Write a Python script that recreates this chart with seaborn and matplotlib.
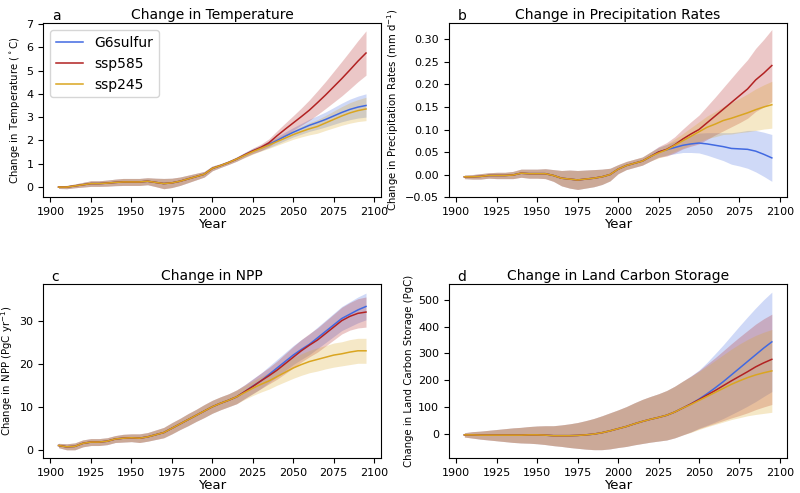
import numpy as np
import pandas as pd
import seaborn as sns
import matplotlib
matplotlib.use("Agg")
import matplotlib.pyplot as plt

# years
hist_years = np.arange(1905, 2016, 5)
fut_years = np.arange(2020, 2096, 5)

scenarios = ["G6sulfur", "ssp585", "ssp245"]
colors = {"G6sulfur": "royalblue", "ssp585": "firebrick", "ssp245": "goldenrod"}

# --- temperature (degC) ---
tas_hist = [0.0, 0.0, 0.05, 0.1, 0.15, 0.15, 0.17, 0.2, 0.22, 0.22, 0.22, 0.25, 0.2, 0.15, 0.18, 0.25,
            0.35, 0.45, 0.55, 0.8, 0.92, 1.05, 1.2]
tas_hist_sd = [0.06, 0.07, 0.08, 0.1, 0.12, 0.12, 0.13, 0.14, 0.15, 0.15, 0.15, 0.15, 0.18, 0.22, 0.2, 0.18,
               0.16, 0.14, 0.12, 0.1, 0.08, 0.08, 0.09]
tas_fut = {
    "G6sulfur": [1.38, 1.55, 1.68, 1.83, 2.0, 2.18, 2.35, 2.5, 2.65, 2.77, 2.9, 3.05, 3.2, 3.33, 3.43, 3.5],
    "ssp585": [1.38, 1.55, 1.7, 1.9, 2.2, 2.48, 2.75, 3.02, 3.3, 3.62, 3.95, 4.3, 4.65, 5.02, 5.4, 5.75],
    "ssp245": [1.36, 1.52, 1.66, 1.8, 1.95, 2.1, 2.25, 2.38, 2.5, 2.6, 2.75, 2.9, 3.05, 3.18, 3.28, 3.35],
}
tas_fut_sd = {
    "G6sulfur": [0.1, 0.11, 0.12, 0.14, 0.16, 0.18, 0.2, 0.23, 0.26, 0.29, 0.32, 0.36, 0.4, 0.44, 0.47, 0.5],
    "ssp585": [0.1, 0.12, 0.14, 0.17, 0.21, 0.26, 0.31, 0.37, 0.44, 0.51, 0.58, 0.66, 0.74, 0.81, 0.88, 0.95],
    "ssp245": [0.1, 0.11, 0.12, 0.14, 0.16, 0.18, 0.2, 0.23, 0.26, 0.29, 0.32, 0.36, 0.4, 0.44, 0.47, 0.5],
}

# --- precipitation (mm/d) ---
pr_hist = [-0.005, -0.005, -0.004, -0.002, -0.002, -0.002, -0.001, 0.003, 0.002, 0.002, 0.002, -0.002,
           -0.008, -0.01, -0.012, -0.01, -0.008, -0.005, 0.0, 0.012, 0.02, 0.025, 0.03]
pr_hist_sd = [0.004, 0.005, 0.006, 0.006, 0.007, 0.007, 0.008, 0.009, 0.01, 0.01, 0.011, 0.013,
              0.017, 0.02, 0.021, 0.02, 0.019, 0.017, 0.014, 0.01, 0.009, 0.009, 0.009]
pr_fut = {
    "G6sulfur": [0.04, 0.05, 0.055, 0.06, 0.065, 0.068, 0.07, 0.068, 0.065, 0.062, 0.058, 0.057, 0.056, 0.052, 0.045, 0.037],
    "ssp585": [0.04, 0.05, 0.056, 0.066, 0.079, 0.09, 0.1, 0.115, 0.13, 0.145, 0.16, 0.175, 0.19, 0.21, 0.225, 0.242],
    "ssp245": [0.04, 0.048, 0.055, 0.065, 0.075, 0.085, 0.095, 0.105, 0.112, 0.12, 0.125, 0.131, 0.137, 0.144, 0.15, 0.155],
}
pr_fut_sd = {
    "G6sulfur": [0.01, 0.011, 0.012, 0.014, 0.016, 0.019, 0.022, 0.025, 0.028, 0.031, 0.035, 0.038, 0.042, 0.046, 0.049, 0.052],
    "ssp585": [0.01, 0.012, 0.015, 0.018, 0.022, 0.027, 0.032, 0.037, 0.042, 0.048, 0.054, 0.06, 0.065, 0.07, 0.075, 0.08],
    "ssp245": [0.01, 0.011, 0.012, 0.014, 0.016, 0.019, 0.022, 0.025, 0.028, 0.031, 0.035, 0.038, 0.042, 0.046, 0.049, 0.052],
}

# --- NPP (PgC/yr) ---
npp_hist = [1.0, 0.7, 0.8, 1.5, 1.8, 1.8, 2.0, 2.5, 2.7, 2.8, 2.7, 3.0, 3.5, 4.0, 5.0, 6.0,
            7.0, 8.0, 9.0, 10.0, 10.8, 11.5, 12.3]
npp_hist_sd = [0.5, 0.7, 0.8, 0.8, 0.8, 0.8, 0.8, 0.8, 0.9, 0.9, 1.0, 1.0, 1.1, 1.2, 1.3, 1.3,
               1.4, 1.4, 1.5, 1.5, 1.5, 1.5, 1.6]
npp_fut = {
    "G6sulfur": [13.5, 14.8, 16.0, 17.5, 19.0, 20.5, 22.0, 23.3, 24.5, 26.0, 27.5, 29.0, 30.5, 31.5, 32.5, 33.3],
    "ssp585": [13.5, 14.7, 16.0, 17.2, 18.5, 20.0, 21.5, 23.0, 24.3, 25.5, 27.0, 28.5, 30.0, 31.0, 31.7, 32.0],
    "ssp245": [13.3, 14.3, 15.2, 16.0, 17.0, 18.0, 19.0, 19.8, 20.5, 21.0, 21.5, 22.0, 22.3, 22.7, 23.0, 23.0],
}
npp_fut_sd = {
    "G6sulfur": [1.6, 1.7, 1.8, 1.9, 2.0, 2.1, 2.2, 2.3, 2.4, 2.5, 2.6, 2.7, 2.8, 2.9, 3.0, 3.1],
    "ssp585": [1.6, 1.7, 1.8, 1.9, 2.1, 2.3, 2.5, 2.6, 2.7, 2.8, 2.9, 3.0, 3.1, 3.2, 3.4, 3.5],
    "ssp245": [1.6, 1.7, 1.8, 1.9, 2.0, 2.2, 2.4, 2.5, 2.6, 2.7, 2.7, 2.8, 2.8, 2.9, 2.9, 2.9],
}

# --- land carbon storage (PgC) ---
lc_hist = [-3, -3, -4, -4, -4, -4, -4, -4, -3, -3, -4, -6, -6, -6, -5, -3,
           0, 5, 12, 20, 28, 38, 47]
lc_hist_sd = [8, 12, 15, 18, 21, 24, 27, 29, 31, 33, 35, 37, 40, 44, 48, 53,
              58, 63, 67, 70, 74, 78, 82]
lc_fut = {
    "G6sulfur": [55, 62, 70, 82, 97, 112, 130, 150, 172, 195, 220, 245, 270, 295, 320, 343],
    "ssp585": [55, 62, 70, 82, 97, 112, 128, 145, 162, 180, 198, 215, 232, 250, 265, 278],
    "ssp245": [55, 62, 70, 82, 97, 110, 125, 140, 155, 170, 185, 198, 210, 220, 228, 235],
}
lc_fut_sd = {
    "G6sulfur": [85, 88, 92, 96, 100, 104, 108, 117, 127, 137, 147, 157, 166, 174, 180, 185],
    "ssp585": [85, 88, 92, 96, 100, 104, 108, 115, 122, 130, 138, 146, 153, 159, 164, 168],
    "ssp245": [85, 88, 92, 96, 100, 104, 108, 113, 119, 125, 131, 137, 142, 147, 151, 154],
}

panels = [
    ("a", "Change in Temperature", "Change in Temperature ($^\\circ$C)",
     tas_hist, tas_hist_sd, tas_fut, tas_fut_sd, (-0.43, 7.03), list(range(0, 8))),
    ("b", "Change in Precipitation Rates", "Change in Precipitation Rates (mm d$^{-1}$)",
     pr_hist, pr_hist_sd, pr_fut, pr_fut_sd, (-0.05, 0.336), [-0.05, 0.0, 0.05, 0.10, 0.15, 0.20, 0.25, 0.30]),
    ("c", "Change in NPP", "Change in NPP (PgC yr$^{-1}$)",
     npp_hist, npp_hist_sd, npp_fut, npp_fut_sd, (-1.9, 38.5), [0, 10, 20, 30]),
    ("d", "Change in Land Carbon Storage", "Change in Land Carbon Storage (PgC)",
     lc_hist, lc_hist_sd, lc_fut, lc_fut_sd, (-89, 558), [0, 100, 200, 300, 400, 500]),
]

fig, axes = plt.subplots(2, 2, figsize=(8, 4.93), dpi=100)
fig.subplots_adjust(left=0.054, right=0.984, top=0.953, bottom=0.071, wspace=0.2, hspace=0.5)

for ax, (letter, title, ylabel, h, hsd, f, fsd, ylim, yticks) in zip(axes.flat, panels):
    years = np.concatenate([hist_years, fut_years])
    for sc in scenarios:
        mean = np.concatenate([h, f[sc]])
        sd = np.concatenate([hsd, fsd[sc]])
        df = pd.DataFrame({"Year": years, "value": mean})
        sns.lineplot(data=df, x="Year", y="value", ax=ax, color=colors[sc], lw=1.1, label=sc)
        ax.fill_between(years, mean - sd, mean + sd, color=colors[sc], alpha=0.25, lw=0)
    ax.set_xlim(1895.5, 2104.5)
    ax.set_ylim(*ylim)
    ax.set_yticks(yticks)
    ax.set_xticks([1900, 1925, 1950, 1975, 2000, 2025, 2050, 2075, 2100])
    ax.tick_params(labelsize=8)
    ax.set_title(title, fontsize=10, pad=3)
    ax.set_xlabel("Year", fontsize=9.5, labelpad=1)
    ax.set_ylabel(ylabel, fontsize=7.3, labelpad=3)
    ax.text(0.025, 1.0, letter, transform=ax.transAxes, fontsize=10, va="bottom", ha="left")
    if letter == "a":
        ax.legend(loc="upper left", fontsize=10)
    else:
        ax.get_legend().remove()

plt.savefig("out.png", dpi=100)
